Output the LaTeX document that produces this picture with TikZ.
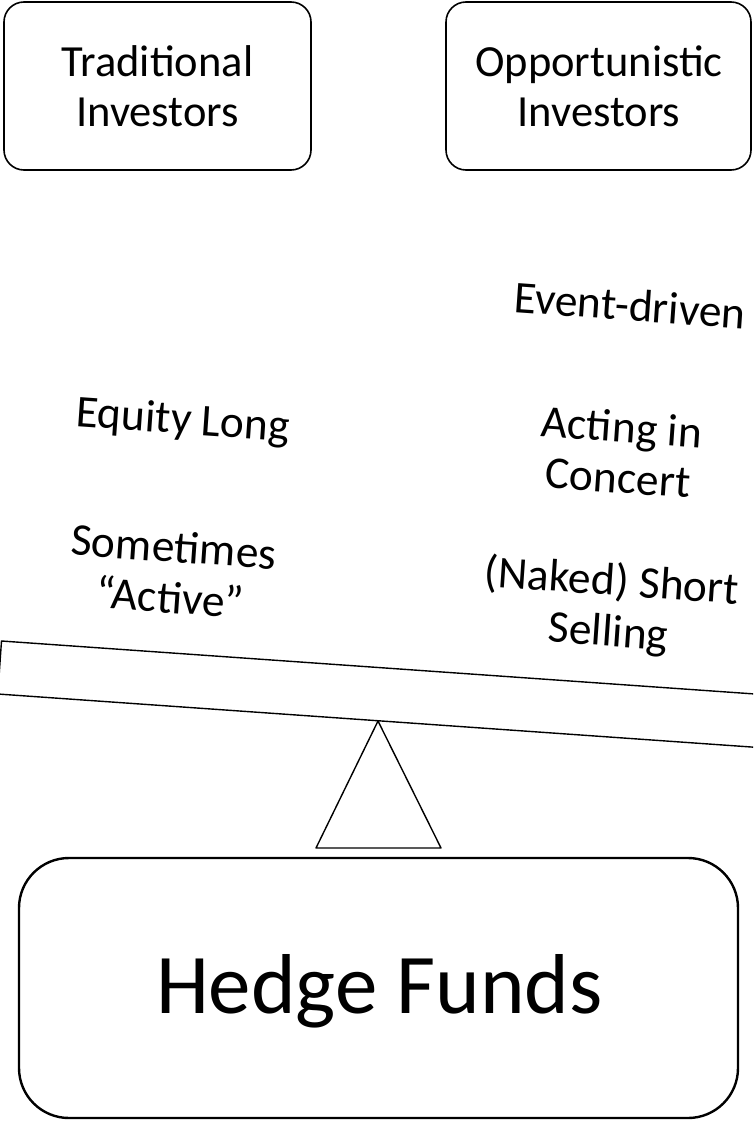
\documentclass[tikz,border=0pt]{standalone}
\usepackage{fontspec}
\setmainfont{Carlito}
\begin{document}
\begin{tikzpicture}[x=1pt,y=-1pt,
  boxtext/.style={align=center,font=\fontsize{44.5}{50}\selectfont},
  lbl/.style={align=center,rotate=-4,inner sep=0pt,font=\fontsize{45.5}{51}\selectfont}]
\useasboundingbox (0,0) rectangle (753,1121);
\clip (0,0) rectangle (753,1121);
% top boxes
\draw[line width=1.6pt,rounded corners=20pt] (4,2) rectangle (311,170);
\node[boxtext] (trad) at (157.5,86) {Traditional\\Investors};
\draw[line width=1.6pt,rounded corners=20pt] (446,2) rectangle (751,170);
\node[boxtext] (opp) at (599,86) {Opportunistic\\Investors};
% labels
\node[lbl] (ev) at (630,305) {Event-driven};
\node[lbl] (eq) at (183,422) {Equity Long};
\node[lbl] (ac) at (620,452) {Acting in\\Concert};
\node[lbl] (so) at (172,572) {Sometimes\\“Active”};
\node[lbl] (ns) at (610,608) {(Naked) Short\\Selling};
% beam
\coordinate (tl) at (1.5,641);
\coordinate (bl) at (-2.2,694);
\coordinate (tr) at (900,704.2);
\coordinate (br) at (896.3,757.2);
\draw[line width=1.4pt] (bl) -- (tl) -- (tr) -- (br) -- cycle;
% fulcrum
\coordinate (apex) at (378,721);
\coordinate (bl2) at (316,848);
\coordinate (br2) at (441,848);
\draw[line width=1.4pt,line join=round] (apex) -- (bl2) -- (br2) -- cycle;
% hedge funds
\draw[line width=2.4pt,rounded corners=50pt] (19,858) rectangle (738,1118);
\node[font=\fontsize{85}{100}\selectfont] (hf) at (379.5,991) {Hedge Funds};
\end{tikzpicture}
\end{document}
